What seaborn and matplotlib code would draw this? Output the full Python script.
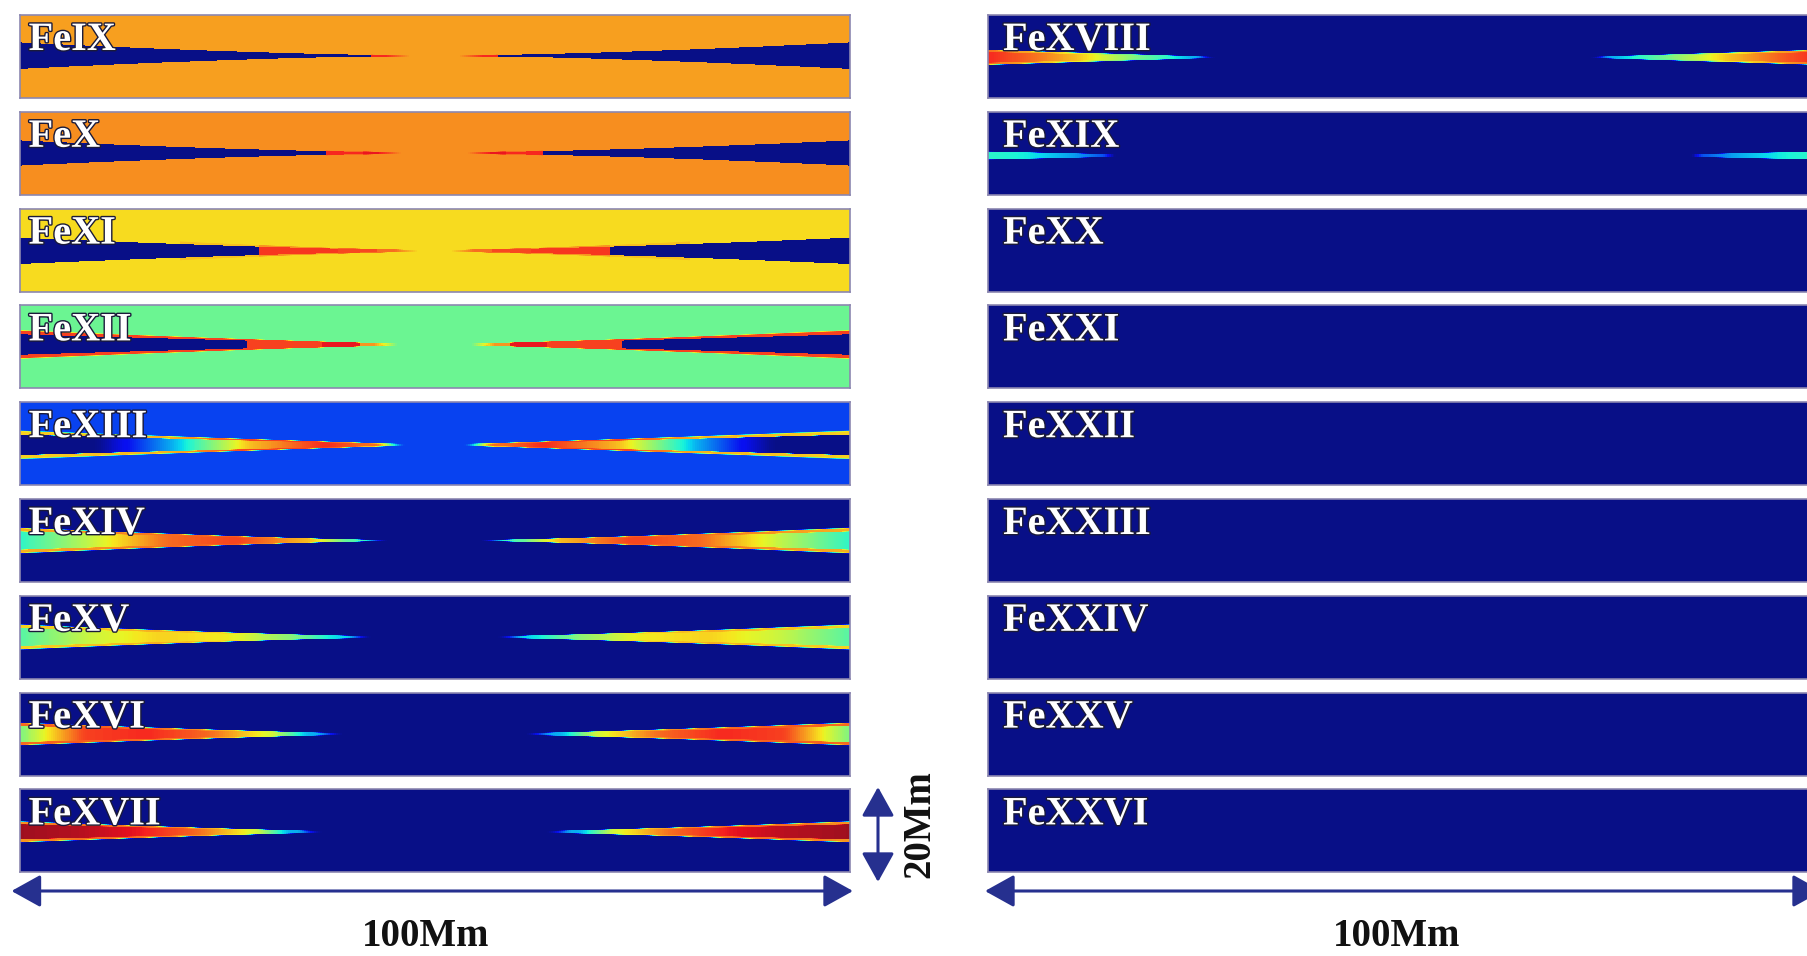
import numpy as np
import matplotlib
matplotlib.use('Agg')
import matplotlib.pyplot as plt
import matplotlib.patheffects as pe
from matplotlib.colors import ListedColormap
import seaborn as sns

sns.set_style('white')
plt.rcParams['font.family'] = ['Liberation Serif', 'DejaVu Serif']

# Ion labels (left column, right column)
ions_left = ['FeIX', 'FeX', 'FeXI', 'FeXII', 'FeXIII', 'FeXIV', 'FeXV', 'FeXVI', 'FeXVII']
ions_right = ['FeXVIII', 'FeXIX', 'FeXX', 'FeXXI', 'FeXXII', 'FeXXIII', 'FeXXIV', 'FeXXV', 'FeXXVI']
ions = ions_left + ions_right

# Normalised ion fraction of the ambient plasma (jet scale 0..1)
background = [0.74, 0.76, 0.67, 0.48, 0.18, 0.0, 0.0, 0.0, 0.0,
              0.0, 0.0, 0.0, 0.0, 0.0, 0.0, 0.0, 0.0, 0.0]

# Strand extent from each footpoint (fraction of loop length), 0 = no strand
strand_tip = [0.47, 0.46, 0.48, 0.455, 0.46, 0.44, 0.42, 0.385, 0.36,
              0.27, 0.15, 0, 0, 0, 0, 0, 0, 0]
# Strand half-width at the footpoints, centre (fraction of panel height from top), taper
strand_halfwidth = [0.22, 0.20, 0.21, 0.16, 0.16, 0.15, 0.14, 0.125, 0.115,
                    0.085, 0.035, 0, 0, 0, 0, 0, 0, 0]
strand_center = [0.49, 0.50, 0.51, 0.47, 0.51, 0.50, 0.50, 0.50, 0.51,
                 0.51, 0.53, 0.5, 0.5, 0.5, 0.5, 0.5, 0.5, 0.5]
taper_power = [1.5, 1.5, 1.4, 1.2, 1.1, 1.3, 1.3, 1.2, 1.2,
               1.0, 0.8, 1, 1, 1, 1, 1, 1, 1]
# cold-core panels change colour abruptly along the strand
step_profile = [True, True, True, True, False, False, False, False, False,
                False, False, False, False, False, False, False, False, False]

# Values along the strand (footpoint -> tip) for the core and the strand edges
along = [0.0, 0.2, 0.4, 0.6, 0.8, 0.9]
core_values = [
    [0.0, 0.0, 0.0, 0.0, 0.0, 0.88],
    [0.0, 0.0, 0.0, 0.0, 0.88, 0.90],
    [0.0, 0.0, 0.0, 0.86, 0.84, 0.80],
    [0.0, 0.0, 0.0, 0.85, 0.90, 0.75],
    [0.0, 0.0, 0.30, 0.70, 0.88, 0.80],
    [0.40, 0.60, 0.80, 0.85, 0.70, 0.45],
    [0.45, 0.60, 0.68, 0.65, 0.50, 0.35],
    [0.50, 0.85, 0.88, 0.80, 0.60, 0.30],
    [0.97, 0.95, 0.90, 0.80, 0.60, 0.30],
    [0.88, 0.80, 0.70, 0.55, 0.40, 0.30],
    [0.40, 0.38, 0.35, 0.30, 0.25, 0.20],
] + [[0, 0, 0, 0, 0, 0]] * 7
edge_values = [
    [0.74, 0.74, 0.74, 0.74, 0.74, 0.80],
    [0.76, 0.76, 0.76, 0.76, 0.80, 0.85],
    [0.67, 0.67, 0.70, 0.75, 0.80, 0.80],
    [0.85, 0.85, 0.85, 0.85, 0.90, 0.80],
    [0.68, 0.70, 0.72, 0.85, 0.85, 0.70],
    [0.72, 0.75, 0.80, 0.82, 0.70, 0.45],
    [0.68, 0.70, 0.72, 0.68, 0.50, 0.35],
    [0.80, 0.82, 0.80, 0.75, 0.60, 0.30],
    [0.75, 0.80, 0.80, 0.75, 0.60, 0.30],
    [0.80, 0.72, 0.65, 0.50, 0.40, 0.30],
    [0.40, 0.38, 0.35, 0.30, 0.25, 0.20],
] + [[0, 0, 0, 0, 0, 0]] * 7

NX, NY = 420, 84

# jet, muted a little like the printed figure
jet = plt.get_cmap('jet')(np.linspace(0, 1, 256))
jet[:, 0] = 0.03 + 0.94 * jet[:, 0]
jet[:, 1] = 0.06 + 0.90 * jet[:, 1]
jet[:, 2] = 0.12 + 0.82 * jet[:, 2]
cmap = ListedColormap(jet)


def smooth_x(a, k=5):
    kern = np.ones(k) / k
    pad = np.pad(a, ((0, 0), (k // 2, k // 2)), mode='edge')
    return np.array([np.convolve(row, kern, mode='valid') for row in pad])


def profile(vals, sc, step):
    vals = np.asarray(vals, dtype=float)
    if step:
        idx = np.searchsorted(along, sc, side='right') - 1
        return vals[np.clip(idx, 0, len(vals) - 1)]
    return np.interp(sc, along, vals)


def build_field(i):
    bg = background[i]
    field = np.full((NY, NX), bg, dtype=float)
    tip = strand_tip[i]
    if tip <= 0:
        return field
    x = (np.arange(NX) + 0.5) / NX
    y = (np.arange(NY) + 0.5) / NY
    X, Y = np.meshgrid(x, y)
    s = np.minimum(X, 1 - X) / tip
    inside = s < 1
    sc = np.clip(s, 0, 1)
    w = strand_halfwidth[i] * (1 - sc) ** taper_power[i] + 0.014
    r = np.abs(Y - strand_center[i]) / w
    core = profile(core_values[i], sc, step_profile[i])
    edge = profile(edge_values[i], sc, step_profile[i])
    val = np.where(r < 0.7, core, edge)
    alpha = np.clip((1 - r) / 0.08, 0, 1) * np.clip((1 - sc) / 0.06, 0, 1)
    field = np.where(inside, bg + (val - bg) * alpha, bg)
    if step_profile[i]:
        return field
    return smooth_x(field)


W, H = 1807, 956
fig = plt.figure(figsize=(W / 100, H / 100), dpi=100)
fig.patch.set_facecolor('white')

col_left = [19.6, 988]
panel_w, panel_h = 830, 83
top0, pitch = 15, 96.8

for i, ion in enumerate(ions):
    col, row = divmod(i, 9)
    left = col_left[col]
    top = top0 + row * pitch
    ax = fig.add_axes([left / W, 1 - (top + panel_h) / H, panel_w / W, panel_h / H])
    sns.heatmap(build_field(i), ax=ax, cmap=cmap, vmin=0, vmax=1, cbar=False,
                xticklabels=False, yticklabels=False)
    for sp in ax.spines.values():
        sp.set_visible(True)
        sp.set_color('#8c87b0')
        sp.set_linewidth(1.2)

# Overlay in pixel coordinates for labels and scale arrows
ov = fig.add_axes([0, 0, 1, 1])
ov.set_xlim(0, W)
ov.set_ylim(H, 0)
ov.axis('off')

for i, ion in enumerate(ions):
    col, row = divmod(i, 9)
    off = 9 if col == 0 else 15
    ov.text(col_left[col] + off, top0 + row * pitch + 35, ion, fontsize=29,
            fontweight='bold', color='white', va='baseline',
            path_effects=[pe.withStroke(linewidth=2, foreground='#1a1a3a')])

navy = '#26308f'
arrow = dict(arrowstyle='<|-|>,head_length=0.9,head_width=0.5', color=navy,
             lw=2.2, mutation_scale=20, shrinkA=0, shrinkB=0)
ov.annotate('', xy=(853, 891), xytext=(11.5, 891), arrowprops=arrow, annotation_clip=False)
ov.annotate('', xy=(1822, 891), xytext=(985, 891), arrowprops=arrow, annotation_clip=False)
ov.annotate('', xy=(878, 882), xytext=(878, 787), arrowprops=arrow, annotation_clip=False)

ov.text(426, 936, '100Mm', ha='center', va='center', fontsize=28, fontweight='bold', color='#111111')
ov.text(1397, 936, '100Mm', ha='center', va='center', fontsize=28, fontweight='bold', color='#111111')
ov.text(920, 824, '20Mm', ha='center', va='center', rotation=90, fontsize=28,
        fontweight='bold', color='#111111')

fig.savefig('out.png', dpi=100)
